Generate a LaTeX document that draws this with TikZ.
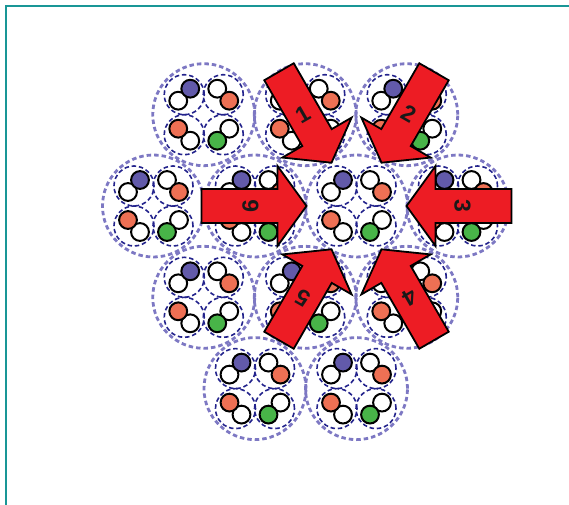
\documentclass[tikz,border=0pt]{standalone}
\usepackage{fontspec}
\newfontfamily\numfont{Liberation Sans}[BoldFont={Liberation Sans Bold}]
\definecolor{frameteal}{RGB}{25,150,150}
\definecolor{outerdash}{RGB}{125,120,195}
\definecolor{innerdash}{RGB}{35,35,140}
\definecolor{ballblue}{RGB}{98,90,170}
\definecolor{ballorange}{RGB}{238,112,84}
\definecolor{ballgreen}{RGB}{72,180,72}
\definecolor{arrowred}{RGB}{237,28,36}
\definecolor{numdark}{RGB}{25,25,25}
\tikzset{
  frameline/.style={draw=frameteal,line width=1.5pt},
  outerring/.style={draw=outerdash,line width=2.8pt,dash pattern=on 4.5pt off 3pt},
  innerring/.style={draw=innerdash,line width=1.6pt,dash pattern=on 4.5pt off 2.8pt},
  ball/.style={draw=black,line width=2pt},
  bigarrow/.style={fill=arrowred,draw=black,line width=1.8pt,line join=miter},
  numlabel/.style={font=\numfont\bfseries\fontsize{23}{23}\selectfont,text=numdark,inner sep=0pt},
  cluster/.pic={
    \draw[outerring] (0,0) circle (51pt);
    \foreach \px/\py in {-19.5/20,19.5/20,-19.5/-20,19.5/-20}
      \draw[innerring] (\px,\py) circle (20pt);
    % top-left pair
    \draw[ball,fill=white] (-25.5,14) circle (8.9pt);
    \draw[ball,fill=ballblue] (-13.5,26) circle (8.9pt);
    % top-right pair
    \draw[ball,fill=white] (13.5,26) circle (8.9pt);
    \draw[ball,fill=ballorange] (25.5,14) circle (8.9pt);
    % bottom-left pair
    \draw[ball,fill=white] (-13.5,-26) circle (8.9pt);
    \draw[ball,fill=ballorange] (-25.5,-14) circle (8.9pt);
    % bottom-right pair
    \draw[ball,fill=white] (25.5,-14) circle (8.9pt);
    \draw[ball,fill=ballgreen] (13.5,-26) circle (8.9pt);
  }
}
\begin{document}
\begin{tikzpicture}[x=1pt,y=1pt]
\useasboundingbox (0,0) rectangle (569,504);
\draw[frameline] (6,-2) -- (6,498) -- (571,498);
% clusters
\foreach \cx/\cy in {203.75/389.3,305.25/389.3,406.75/389.3,
                     153.5/298,255/298,356.5/298,458/298,
                     203.75/206.7,305.25/206.7,406.75/206.7,
                     255/115.4,356.5/115.4}
  \pic at (\cx,\cy) {cluster};
\coordinate (ctr) at (356.5,298);
% arrows
\foreach \ang/\lab in {120/1,60/2,0/3,-60/4,-120/5,180/6}{
  \begin{scope}[shift={(ctr)},rotate=\ang]
    \draw[bigarrow] (50,0) -- (79,40) -- (79,17) -- (155,17) -- (155,-17)
       -- (79,-17) -- (79,-40) -- cycle;
    \node[numlabel,rotate=\ang-90] (n\lab) at (106,0) {\lab};
  \end{scope}
}
\end{tikzpicture}
\end{document}
